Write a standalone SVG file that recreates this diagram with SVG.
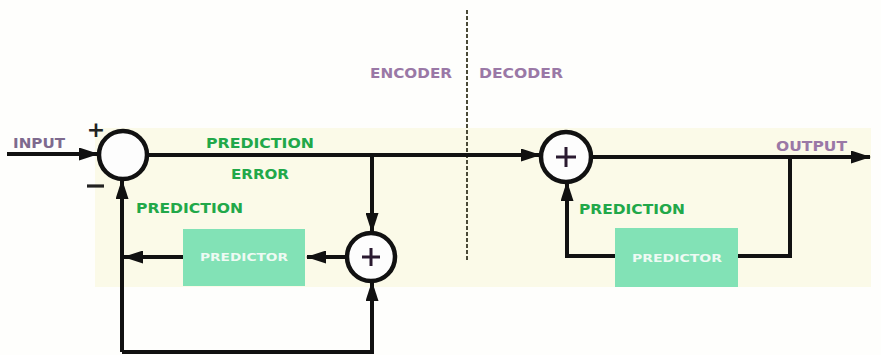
<svg xmlns="http://www.w3.org/2000/svg" width="881" height="355" viewBox="0 0 881 355">
<defs>
<marker id="ah" markerUnits="userSpaceOnUse" markerWidth="20" markerHeight="13" refX="19" refY="6.5" orient="auto">
<path d="M0,0 L20,6.5 L0,13 z" fill="#111"/>
</marker>
<style>
.ln{fill:none;stroke:#111;stroke-width:4;stroke-linejoin:miter}
.cir{fill:#fdfdfd;stroke:#111;stroke-width:4.5}
.plus{stroke:#2a1a30;stroke-width:3}
.g{font-family:"DejaVu Sans",sans-serif;font-weight:bold;font-size:13.5px;fill:#21a849}
.p{font-family:"DejaVu Sans",sans-serif;font-weight:bold;font-size:13.5px;fill:#9a78a6}
.box{fill:#82e2b6}
.bt{font-family:"DejaVu Sans",sans-serif;font-weight:bold;font-size:11px;fill:#eefaf3}
.sg{font-family:"DejaVu Sans",sans-serif;font-weight:bold;font-size:22px;fill:#222}
</style>
</defs>
<rect x="0" y="0" width="881" height="355" fill="#fefefc"/>
<rect x="95" y="128" width="776" height="159" fill="#fbfae8"/>
<line x1="467" y1="10" x2="467" y2="262" stroke="#4a4a38" stroke-width="2" stroke-dasharray="4 2"/>
<text class="p" x="370" y="78" textLength="82" lengthAdjust="spacingAndGlyphs">ENCODER</text>
<text class="p" x="479" y="78" textLength="84" lengthAdjust="spacingAndGlyphs">DECODER</text>
<g id="connectors">
<path class="ln" d="M7,154 H98" stroke="#2a1a2a" marker-end="url(#ah)"/>
<path class="ln" d="M147,155 H540" marker-end="url(#ah)"/>
<path class="ln" d="M372,155 V232" marker-end="url(#ah)"/>
<path class="ln" d="M346,257 H307" marker-end="url(#ah)"/>
<path class="ln" d="M183,257 H124" marker-end="url(#ah)"/>
<path class="ln" d="M122,352 V180" marker-end="url(#ah)"/>
<path class="ln" d="M122,352 H372 V282" marker-end="url(#ah)"/>
<path class="ln" d="M591,157 H870" marker-end="url(#ah)"/>
<path class="ln" d="M790,157 V256 H738"/>
<path class="ln" d="M615,256 H567 V182" marker-end="url(#ah)"/>
</g>
<g id="input">
<text class="p" x="13" y="148" style="fill:#7e6a8e" textLength="52" lengthAdjust="spacingAndGlyphs">INPUT</text>
</g>
<g id="subtractor">
<circle class="cir" cx="123" cy="155" r="24"/>
<text class="sg" x="96" y="137" text-anchor="middle">+</text>
<line x1="87" y1="186" x2="104" y2="186" stroke="#222" stroke-width="3.2"/>
</g>
<g id="labels-encoder">
<text class="g" x="206" y="148" textLength="108" lengthAdjust="spacingAndGlyphs">PREDICTION</text>
<text class="g" x="231" y="179" textLength="58" lengthAdjust="spacingAndGlyphs">ERROR</text>
<text class="g" x="136" y="213" textLength="107" lengthAdjust="spacingAndGlyphs">PREDICTION</text>
</g>
<g id="encoder-adder">
<circle class="cir" cx="371" cy="257" r="24"/>
<path class="plus" d="M362,257 H380 M371,248 V266"/>
</g>
<g id="encoder-predictor">
<rect class="box" x="183" y="229" width="122" height="57"/>
<text class="bt" x="200" y="261" textLength="88" lengthAdjust="spacingAndGlyphs">PREDICTOR</text>
</g>
<g id="decoder-adder">
<circle class="cir" cx="566" cy="157" r="25"/>
<path class="plus" d="M556,157 H576 M566,147 V167"/>
</g>
<g id="decoder-predictor">
<rect class="box" x="615" y="228" width="123" height="59"/>
<text class="bt" x="632" y="262" textLength="90" lengthAdjust="spacingAndGlyphs">PREDICTOR</text>
</g>
<g id="labels-decoder">
<text class="g" x="579" y="214" textLength="106" lengthAdjust="spacingAndGlyphs">PREDICTION</text>
<text class="p" x="776" y="151" textLength="71" lengthAdjust="spacingAndGlyphs">OUTPUT</text>
</g>
</svg>
